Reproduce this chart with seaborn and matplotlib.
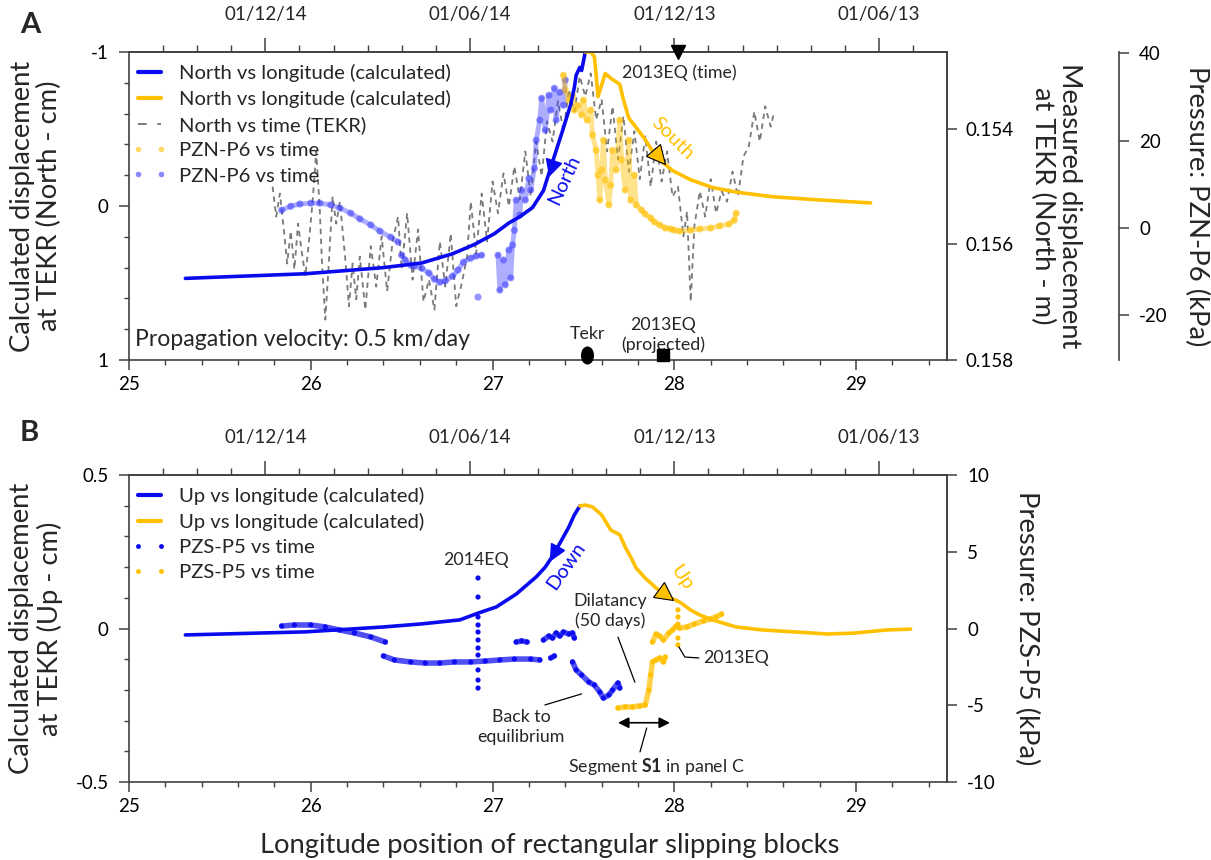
import numpy as np
import pandas as pd
import matplotlib
matplotlib.use("Agg")
import matplotlib.pyplot as plt
import seaborn as sns
from matplotlib.lines import Line2D
from matplotlib.markers import MarkerStyle
from matplotlib.transforms import Affine2D
from matplotlib.ticker import MultipleLocator, FormatStrFormatter, FixedLocator, NullLocator

sns.set_style("ticks")
plt.rcParams['font.family'] = ['Lato', 'DejaVu Sans']
plt.rcParams['axes.unicode_minus'] = False
plt.rcParams['mathtext.fontset'] = 'custom'
plt.rcParams['mathtext.rm'] = 'Lato'
plt.rcParams['mathtext.bf'] = 'Lato:bold'

BLUE = '#0a0aef'
BLUE_DOT = '#3a3aff'
YEL = '#ffc000'
GRAY = '#7a7a7a'
DARK = '#404040'

# ---------------- Panel A data ----------------
NORTH_CALC_BLUE_LON = [25.31, 25.97, 26.40, 26.61, 26.78, 26.90, 27.01, 27.09, 27.15, 27.22, 27.28, 27.32,
                       27.38, 27.43, 27.45, 27.46, 27.48, 27.49, 27.51]
NORTH_CALC_BLUE_CM = [0.47, 0.44, 0.40, 0.37, 0.31, 0.25, 0.18, 0.11, 0.07, 0.01, -0.10, -0.25,
                      -0.47, -0.66, -0.77, -0.85, -0.90, -0.88, -1.00]

NORTH_CALC_YEL_LON = [27.51, 27.54, 27.56, 27.57, 27.58, 27.62, 27.65, 27.70, 27.72, 27.75, 27.79, 27.84,
                      27.90, 27.99, 28.09, 28.21, 28.34, 28.54, 28.79, 29.08]
NORTH_CALC_YEL_CM = [-1.00, -1.00, -0.97, -0.85, -0.71, -0.86, -0.83, -0.79, -0.69, -0.57, -0.51, -0.43,
                     -0.32, -0.23, -0.17, -0.12, -0.09, -0.06, -0.04, -0.02]

TEKR_LON = [25.79, 25.81, 25.83, 25.85, 25.87, 25.89, 25.91, 25.93, 25.95, 25.97, 25.99,
            26.01, 26.03, 26.05, 26.06, 26.08, 26.10, 26.12, 26.14, 26.16,
            26.19, 26.21, 26.23, 26.25, 26.27,
            26.30, 26.33, 26.36, 26.39, 26.42, 26.45, 26.48,
            26.50, 26.53, 26.56, 26.59, 26.62, 26.65, 26.68, 26.71, 26.74, 26.77, 26.80, 26.83, 26.86,
            26.88, 26.91, 26.94, 26.97,
            27.00, 27.03, 27.06, 27.09, 27.12, 27.15, 27.18, 27.21, 27.24, 27.27, 27.30, 27.33, 27.36,
            27.39, 27.42, 27.45, 27.48, 27.51, 27.54, 27.57,
            27.60, 27.63, 27.66, 27.69, 27.72, 27.75, 27.78, 27.81, 27.84, 27.87, 27.90, 27.93, 27.96, 27.99,
            28.02, 28.05, 28.07, 28.09, 28.11, 28.14, 28.17, 28.20, 28.23, 28.26, 28.29, 28.32, 28.35,
            28.38, 28.41, 28.44, 28.47, 28.50, 28.53, 28.55]
TEKR_NORTH_M = [0.15500, 0.15552, 0.15512, 0.15569, 0.15633, 0.15577, 0.15643, 0.15564, 0.15612, 0.15655, 0.15595,
                0.15526, 0.15439, 0.15543, 0.15621, 0.15730, 0.15629, 0.15517, 0.15564, 0.15526,
                0.15626, 0.15707, 0.15633, 0.15695, 0.15621,
                0.15713, 0.15603, 0.15673, 0.15586, 0.15681, 0.15595, 0.15552,
                0.15643, 0.15546, 0.15661, 0.15574, 0.15699, 0.15661, 0.15713, 0.15595, 0.15673, 0.15581,
                0.15707, 0.15668, 0.15621,
                0.15526, 0.15616, 0.15512, 0.15595,
                0.15491, 0.15546, 0.15477, 0.15534, 0.15465, 0.15522, 0.15439, 0.15517, 0.15422, 0.15482,
                0.15387, 0.15422, 0.15352, 0.15404, 0.15332, 0.15370, 0.15309, 0.15344, 0.15304, 0.15384,
                0.15349, 0.15439, 0.15361, 0.15453, 0.15378, 0.15474, 0.15404, 0.15487, 0.15413, 0.15500,
                0.15422, 0.15491, 0.15439, 0.15517,
                0.15500, 0.15586, 0.15543, 0.15699, 0.15569, 0.15508, 0.15552, 0.15487, 0.15546, 0.15508,
                0.15526, 0.15474, 0.15517, 0.15448, 0.15430, 0.15370, 0.15422, 0.15361, 0.15396, 0.15370]

P6_BLUE_SEGMENTS = [
    ([25.84, 25.89, 25.94, 26.00, 26.05, 26.11, 26.16, 26.22, 26.27, 26.33, 26.38, 26.44, 26.48],
     [4.1, 5.0, 5.5, 5.7, 5.7, 5.3, 4.6, 3.4, 2.1, 0.7, -0.7, -2.1, -3.2]),
    ([26.50, 26.52, 26.55, 26.57, 26.61, 26.65, 26.68, 26.71, 26.74, 26.78, 26.81, 26.84, 26.88, 26.91, 26.94],
     [-6.2, -7.3, -8.5, -8.7, -9.2, -10.3, -11.7, -12.4, -12.1, -11.0, -9.6, -7.8, -6.9, -6.4, -6.2]),
    ([26.92], [-15.8]),
    ([27.03, 27.04, 27.06, 27.07, 27.09, 27.10, 27.11, 27.12, 27.13, 27.15, 27.16, 27.18, 27.20, 27.21, 27.23,
      27.24, 27.26, 27.27, 27.29, 27.31, 27.32, 27.34, 27.35, 27.37, 27.39, 27.40],
     [-6.2, -14.2, -7.3, -13.0, -5.0, -11.4, -3.9, -0.5, 6.4, 3.0, 8.7, 6.4, 11.4, 8.7, 13.7,
      20.1, 24.7, 29.7, 22.4, 30.4, 27.0, 32.0, 24.7, 31.1, 28.1, 33.9]),
]
P6_YEL_LON = [27.39, 27.40, 27.42, 27.44, 27.45, 27.47, 27.49, 27.50, 27.52, 27.54, 27.55, 27.57, 27.58, 27.59,
              27.60, 27.61, 27.62, 27.64, 27.65, 27.66, 27.68, 27.70, 27.71, 27.73, 27.75, 27.76, 27.78, 27.79,
              27.82, 27.84, 27.87, 27.89, 27.92, 27.95, 27.98, 28.00, 28.03, 28.09, 28.14, 28.20, 28.25, 28.30,
              28.33, 28.34]
P6_YEL_KPA = [35.0, 31.6, 29.3, 30.4, 27.0, 28.1, 25.9, 29.3, 24.7, 27.0, 21.3, 17.8, 12.1, 6.4,
              13.3, 20.1, 11.0, 5.3, 9.8, 17.8, 13.3, 24.7, 15.6, 8.7, 20.1, 6.4, 12.1, 5.3,
              4.1, 3.2, 2.3, 1.4, 0.7, 0.0, -0.2, -0.5, -0.7, -0.5, -0.2, 0.0, 0.5, 0.9,
              1.8, 3.4]

# ---------------- Panel B data ----------------
UP_CALC_BLUE_LON = [25.31, 25.97, 26.40, 26.61, 26.82, 26.92, 27.02, 27.13, 27.24, 27.29, 27.33, 27.38, 27.42,
                    27.45, 27.48]
UP_CALC_BLUE_CM = [-0.021, -0.011, 0.005, 0.015, 0.028, 0.050, 0.070, 0.112, 0.168, 0.200, 0.236, 0.288, 0.331,
                   0.370, 0.399]
UP_CALC_YEL_LON = [27.48, 27.51, 27.55, 27.60, 27.65, 27.70, 27.73, 27.76, 27.79, 27.84, 27.90, 27.97, 28.03,
                   28.09, 28.14, 28.21, 28.34, 28.49, 28.66, 28.84, 28.99, 29.16, 29.30]
UP_CALC_YEL_CM = [0.399, 0.402, 0.396, 0.370, 0.321, 0.305, 0.265, 0.233, 0.197, 0.164, 0.132, 0.103, 0.086,
                  0.060, 0.044, 0.028, 0.005, -0.005, -0.011, -0.018, -0.015, -0.005, -0.002]

P5_BLUE_SEGMENTS = [
    ([25.84, 25.91, 26.00, 26.08, 26.16, 26.24, 26.33, 26.41],
     [0.16, 0.23, 0.23, 0.10, -0.10, -0.29, -0.55, -0.88]),
    ([26.40, 26.46, 26.55, 26.63, 26.71, 26.79, 26.88, 26.96, 27.04, 27.12, 27.21, 27.26],
     [-1.79, -2.05, -2.18, -2.25, -2.25, -2.18, -2.18, -2.12, -2.05, -1.99, -1.99, -2.05]),
    ([27.32, 27.34], [-1.92, -1.79]),
    ([27.13, 27.16, 27.19], [-0.88, -0.81, -0.88]),
    ([27.28, 27.31, 27.33, 27.35, 27.37, 27.39, 27.42, 27.44, 27.45],
     [-0.75, -0.49, -0.62, -0.29, -0.49, -0.23, -0.36, -0.29, -0.62]),
    ([27.44, 27.46, 27.49, 27.53, 27.56, 27.59, 27.61, 27.64, 27.66, 27.69, 27.70],
     [-2.18, -2.70, -3.03, -3.49, -3.68, -4.14, -4.53, -4.33, -4.01, -3.55, -3.88]),
]
EQ2014_LON = 26.92
EQ2014_KPA = [3.29, 2.05, 0.75, 0.23, -0.23, -0.75, -1.27, -1.73, -2.70, -3.36, -3.88]

P5_YEL_SEGMENTS = [
    ([27.69, 27.73, 27.77, 27.81, 27.84, 27.86, 27.87, 27.88, 27.90, 27.92, 27.94, 27.95],
     [-5.18, -5.11, -5.11, -5.05, -4.98, -4.01, -3.03, -2.18, -2.05, -1.92, -2.18, -1.86]),
    ([27.88, 27.90, 27.92, 27.94, 27.97, 27.99, 28.01, 28.03, 28.07, 28.11, 28.16, 28.20, 28.23, 28.26],
     [-0.88, -0.36, -0.49, -0.75, -0.29, -0.10, 0.16, 0.03, 0.10, 0.29, 0.49, 0.62, 0.75, 0.94]),
]
EQ2013_LON = 28.02
EQ2013_KPA = [1.21, 0.75, 0.29, -0.62, -1.07]

# time axis (top): months counted back from 01/04/15, mapped onto longitude
DATE_MONTHS = [4, 10, 16, 22]
DATE_LABELS = ['01/12/14', '01/06/14', '01/12/13', '01/06/13']
N_MONTHS = 24
LON_MIN, LON_MAX = 25.0, 29.5
LON_PER_MONTH = (LON_MAX - LON_MIN) / N_MONTHS

TICK_FS = 13.5
LAB_FS = 19.7
LEG_FS = 14.6
ANN_FS = 12.8


def line(ax, x, y, color, lw, alpha=1.0, **kw):
    df = pd.DataFrame({'x': x, 'y': y})
    sns.lineplot(data=df, x='x', y='y', ax=ax, sort=False, estimator=None, color=color,
                 linewidth=lw, alpha=alpha, legend=False, **kw)


def dots(ax, x, y, color, s, alpha=1.0):
    sns.scatterplot(x=list(x), y=list(y), ax=ax, color=color, s=s, alpha=alpha,
                    edgecolor='none', legend=False)


def band(ax, x, y, color, lw, s, alpha):
    if len(x) > 1:
        line(ax, x, y, color, lw, alpha=alpha * 0.75, solid_capstyle='round', solid_joinstyle='round')
    dots(ax, x, y, color, s, alpha)


def style_axes(ax):
    for sp in ax.spines.values():
        sp.set_color(DARK)
        sp.set_linewidth(1.2)
    ax.patch.set_visible(False)


fig = plt.figure(figsize=(12.11, 8.6), dpi=100)
W, H = 1211, 860
axA = fig.add_axes([129 / W, 1 - 360 / H, 818 / W, 308 / H])
axB = fig.add_axes([129 / W, 1 - 782 / H, 818 / W, 307 / H])

axA_m = axA.twinx()
axA_p = axA.twinx()
axB_p = axB.twinx()
for a in (axA, axA_m, axA_p, axB, axB_p):
    style_axes(a)
axA.set_zorder(3)
axA_m.set_zorder(1)
axA_p.set_zorder(2)
axB.set_zorder(3)
axB_p.set_zorder(1)
axA_p.spines['right'].set_position(('axes', 1.2103))
for a in (axA_m, axA_p, axB_p):
    for s in ('top', 'bottom', 'left'):
        a.spines[s].set_visible(False)

# ---------- Panel A drawing ----------
line(axA_m, TEKR_LON, TEKR_NORTH_M, GRAY, 1.3, linestyle=(0, (3.0, 2.5)))
for lx, ly in P6_BLUE_SEGMENTS:
    band(axA_p, lx, ly, BLUE_DOT, 3.5, 26, 0.55)
band(axA_p, P6_YEL_LON, P6_YEL_KPA, YEL, 3.5, 26, 0.6)
line(axA, NORTH_CALC_BLUE_LON, NORTH_CALC_BLUE_CM, BLUE, 2.6)
line(axA, NORTH_CALC_YEL_LON, NORTH_CALC_YEL_CM, YEL, 2.6)

# ---------- Panel B drawing ----------
for lx, ly in P5_BLUE_SEGMENTS:
    band(axB_p, lx, ly, BLUE, 4, 14, 0.95)
dots(axB_p, [EQ2014_LON] * len(EQ2014_KPA), EQ2014_KPA, BLUE, 14, 1.0)
for lx, ly in P5_YEL_SEGMENTS:
    band(axB_p, lx, ly, YEL, 4, 14, 0.95)
dots(axB_p, [EQ2013_LON] * len(EQ2013_KPA), EQ2013_KPA, YEL, 14, 1.0)
line(axB, UP_CALC_BLUE_LON, UP_CALC_BLUE_CM, BLUE, 2.6)
line(axB, UP_CALC_YEL_LON, UP_CALC_YEL_CM, YEL, 2.6)

# ---------- Axes setup ----------
maj = dict(which='major', direction='out', length=7.5, width=1.1, color=DARK, labelsize=TICK_FS,
           labelcolor='black')
mnr = dict(which='minor', direction='out', length=3.5, width=1.0, color=DARK)

for ax in (axA, axB):
    ax.set_xlim(LON_MIN, LON_MAX)
    ax.xaxis.set_major_locator(MultipleLocator(1))
    ax.xaxis.set_minor_locator(MultipleLocator(0.2))
    ax.xaxis.set_major_formatter(FormatStrFormatter('%g'))
    ax.yaxis.set_major_formatter(FormatStrFormatter('%g'))
    ax.tick_params(axis='x', pad=4, **maj)
    ax.tick_params(axis='x', **mnr)
    ax.tick_params(axis='y', pad=7, **maj)
    ax.tick_params(axis='y', **mnr)
    ax.set_xlabel('')
    ax.set_ylabel('')
    sec = ax.secondary_xaxis('top', functions=(lambda x: (np.asarray(x) - LON_MIN) / LON_PER_MONTH,
                                                lambda m: LON_MIN + np.asarray(m) * LON_PER_MONTH))
    sec.set_xticks(DATE_MONTHS)
    sec.set_xticklabels(DATE_LABELS)
    sec.xaxis.set_minor_locator(FixedLocator(list(range(1, N_MONTHS))))
    sec.tick_params(which='major', direction='out', length=10, width=1.1, color=DARK,
                    labelsize=TICK_FS, pad=11)
    sec.tick_params(which='minor', direction='out', length=5, width=1.0, color=DARK)
    for sp in sec.spines.values():
        sp.set_color(DARK)
        sp.set_linewidth(1.2)

axA.set_ylim(1, -1)
axA.yaxis.set_major_locator(MultipleLocator(1))
axA.yaxis.set_minor_locator(MultipleLocator(0.2))

axA_m.set_ylim(0.158, 0.15267)
axA_m.set_yticks([0.154, 0.156, 0.158])
axA_m.yaxis.set_major_formatter(FormatStrFormatter('%.3f'))
axA_m.yaxis.set_minor_locator(NullLocator())
axA_m.tick_params(axis='y', pad=6, **maj)

axA_p.set_ylim(-30.2, 40.3)
axA_p.set_yticks([-20, 0, 20, 40])
axA_p.yaxis.set_major_formatter(FormatStrFormatter('%g'))
axA_p.yaxis.set_minor_locator(NullLocator())
axA_p.tick_params(axis='y', pad=7, **maj)

axB.set_ylim(-0.5, 0.5)
axB.yaxis.set_major_locator(MultipleLocator(0.5))
axB.yaxis.set_minor_locator(MultipleLocator(0.1))

axB_p.set_ylim(-10, 10)
axB_p.set_yticks([-10, -5, 0, 5, 10])
axB_p.yaxis.set_major_formatter(FormatStrFormatter('%g'))
axB_p.yaxis.set_minor_locator(NullLocator())
axB_p.tick_params(axis='y', pad=7, **maj)

for a in (axA_m, axA_p, axB_p):
    a.set_xlabel('')

# axis labels
axA.set_ylabel('Calculated displacement\nat TEKR (North - cm)', fontsize=LAB_FS, va='center',
               linespacing=1.1)
axA.yaxis.set_label_coords((36 - 129) / 818, 0.5)
axB.set_ylabel('Calculated displacement\nat TEKR (Up - cm)', fontsize=LAB_FS, va='center',
               linespacing=1.1)
axB.yaxis.set_label_coords((36 - 129) / 818, 0.5)
axA_m.set_ylabel('Measured displacement\nat TEKR (North - m)', fontsize=LAB_FS, rotation=270,
                 va='center', ha='center', linespacing=1.1)
axA_m.yaxis.set_label_coords((1056 - 129) / 818, 0.5)
axA_p.set_ylabel('Pressure: PZN-P6 (kPa)', fontsize=LAB_FS, rotation=270, va='center', ha='center')
axA_p.yaxis.set_label_coords((1197 - 129) / 818, 0.5)
axB_p.set_ylabel('Pressure: PZS-P5 (kPa)', fontsize=LAB_FS, rotation=270, va='center', ha='center')
axB_p.yaxis.set_label_coords((1027 - 129) / 818, 0.5)
axB.set_xlabel('Longitude position of rectangular slipping blocks', fontsize=LAB_FS, va='center')
axB.xaxis.set_label_coords((550 - 129) / 818, (782 - 845) / 307)

fig.text(30 / W, 1 - 25 / H, 'A', fontsize=21, fontweight='bold', ha='center', va='center')
fig.text(29 / W, 1 - 433 / H, 'B', fontsize=21, fontweight='bold', ha='center', va='center')

# ---------- Annotations panel A ----------
axA.text(25.033, 0.87, 'Propagation velocity: 0.5 km/day', fontsize=16.6, ha='left', va='center')
axA.plot([27.52], [0.965], marker=MarkerStyle('o', transform=Affine2D().scale(0.7, 1.0)),
         color='black', ms=12, clip_on=False, zorder=5)
axA.text(27.52, 0.83, 'Tekr', fontsize=ANN_FS, ha='center', va='center')
axA.plot([27.94], [0.968], marker='s', color='black', ms=8, clip_on=False, zorder=5)
axA.text(27.937, 0.84, '2013EQ\n(projected)', fontsize=ANN_FS, ha='center', va='center', linespacing=1.25)
axA.plot([28.02], [-1.0], marker='v', color='black', ms=10, clip_on=False, zorder=6)
axA.text(28.025, -0.864, '2013EQ (time)', fontsize=ANN_FS, ha='center', va='center')
axA.plot([27.321], [-0.247], marker=MarkerStyle('v', transform=Affine2D().rotate_deg(-18)),
         color=BLUE, ms=11, zorder=6)
axA.plot([27.915], [-0.318], marker=MarkerStyle('v', transform=Affine2D().rotate_deg(42)),
         color=YEL, mec='black', mew=0.8, ms=13, zorder=6)
axA.text(27.393, -0.169, 'North', color=BLUE, fontsize=14.5, rotation=65, ha='center', va='center')
axA.text(27.99, -0.44, 'South', color=YEL, fontsize=14.5, rotation=-45, ha='center', va='center')

legA = [Line2D([], [], color=BLUE, lw=3),
        Line2D([], [], color=YEL, lw=3),
        Line2D([], [], color=GRAY, lw=1.4, ls=(0, (4.5, 5.5))),
        Line2D([], [], color=YEL, ls='none', marker='o', ms=4, alpha=0.6, mec='none'),
        Line2D([], [], color=BLUE_DOT, ls='none', marker='o', ms=4, alpha=0.6, mec='none')]
labA = ['North vs longitude (calculated)', 'North vs longitude (calculated)', 'North vs time (TEKR)',
        'PZN-P6 vs time', 'PZN-P6 vs time']
axA.legend(legA, labA, loc='upper left', bbox_to_anchor=(-0.012, 1.005), frameon=False, fontsize=LEG_FS,
           handlelength=1.7, handletextpad=0.6, labelspacing=0.4, borderaxespad=0.25, numpoints=2)

# ---------- Annotations panel B ----------
axB.plot([27.34], [0.246], marker=MarkerStyle('v', transform=Affine2D().rotate_deg(-30)),
         color=BLUE, ms=11, zorder=6)
axB.plot([27.952], [0.109], marker=MarkerStyle('v', transform=Affine2D().rotate_deg(55)),
         color=YEL, mec='black', mew=0.8, ms=13, zorder=6)
axB.text(27.404, 0.204, 'Down', color=BLUE, fontsize=14.5, rotation=55, ha='center', va='center')
axB.text(28.04, 0.164, 'Up', color=YEL, fontsize=14.5, rotation=-55, ha='center', va='center')
axB.text(26.91, 0.223, '2014EQ', fontsize=ANN_FS, ha='center', va='center')
axB.text(27.646, 0.057, 'Dilatancy\n(50 days)', fontsize=ANN_FS, ha='center', va='center', linespacing=1.3)
axB.annotate('', xy=(27.783, -0.175), xytext=(27.690, -0.028),
             arrowprops=dict(arrowstyle='-', color='black', lw=0.9, shrinkA=0, shrinkB=0))
axB.text(28.157, -0.096, '2013EQ', fontsize=ANN_FS, ha='left', va='center')
axB.plot([28.025, 28.058, 28.135], [-0.06, -0.093, -0.096], color='black', lw=0.9)
axB.text(27.156, -0.321, 'Back to\nequilibrium', fontsize=ANN_FS, ha='center', va='center', linespacing=1.3)
axB.annotate('', xy=(27.49, -0.213), xytext=(27.288, -0.249),
             arrowprops=dict(arrowstyle='-', color='black', lw=0.9, shrinkA=0, shrinkB=0))
axB.annotate('', xy=(27.976, -0.307), xytext=(27.69, -0.307),
             arrowprops=dict(arrowstyle='<|-|>', color='black', lw=1.2, mutation_scale=16,
                             shrinkA=0, shrinkB=0))
axB.annotate('', xy=(27.848, -0.324), xytext=(27.811, -0.402),
             arrowprops=dict(arrowstyle='-', color='black', lw=0.9, shrinkA=0, shrinkB=0))
axB.text(27.899, -0.451, r'Segment $\mathbf{S1}$ in panel C', fontsize=ANN_FS, ha='center', va='center')

legB = [Line2D([], [], color=BLUE, lw=3),
        Line2D([], [], color=YEL, lw=3),
        Line2D([], [], color=BLUE, ls='none', marker='o', ms=3.5, mec='none'),
        Line2D([], [], color=YEL, ls='none', marker='o', ms=3.5, mec='none')]
labB = ['Up vs longitude (calculated)', 'Up vs longitude (calculated)', 'PZS-P5 vs time', 'PZS-P5 vs time']
axB.legend(legB, labB, loc='upper left', bbox_to_anchor=(-0.012, 1.005), frameon=False, fontsize=LEG_FS,
           handlelength=1.7, handletextpad=0.6, labelspacing=0.4, borderaxespad=0.25, numpoints=2)

fig.savefig('out.png', dpi=100, facecolor='white')
